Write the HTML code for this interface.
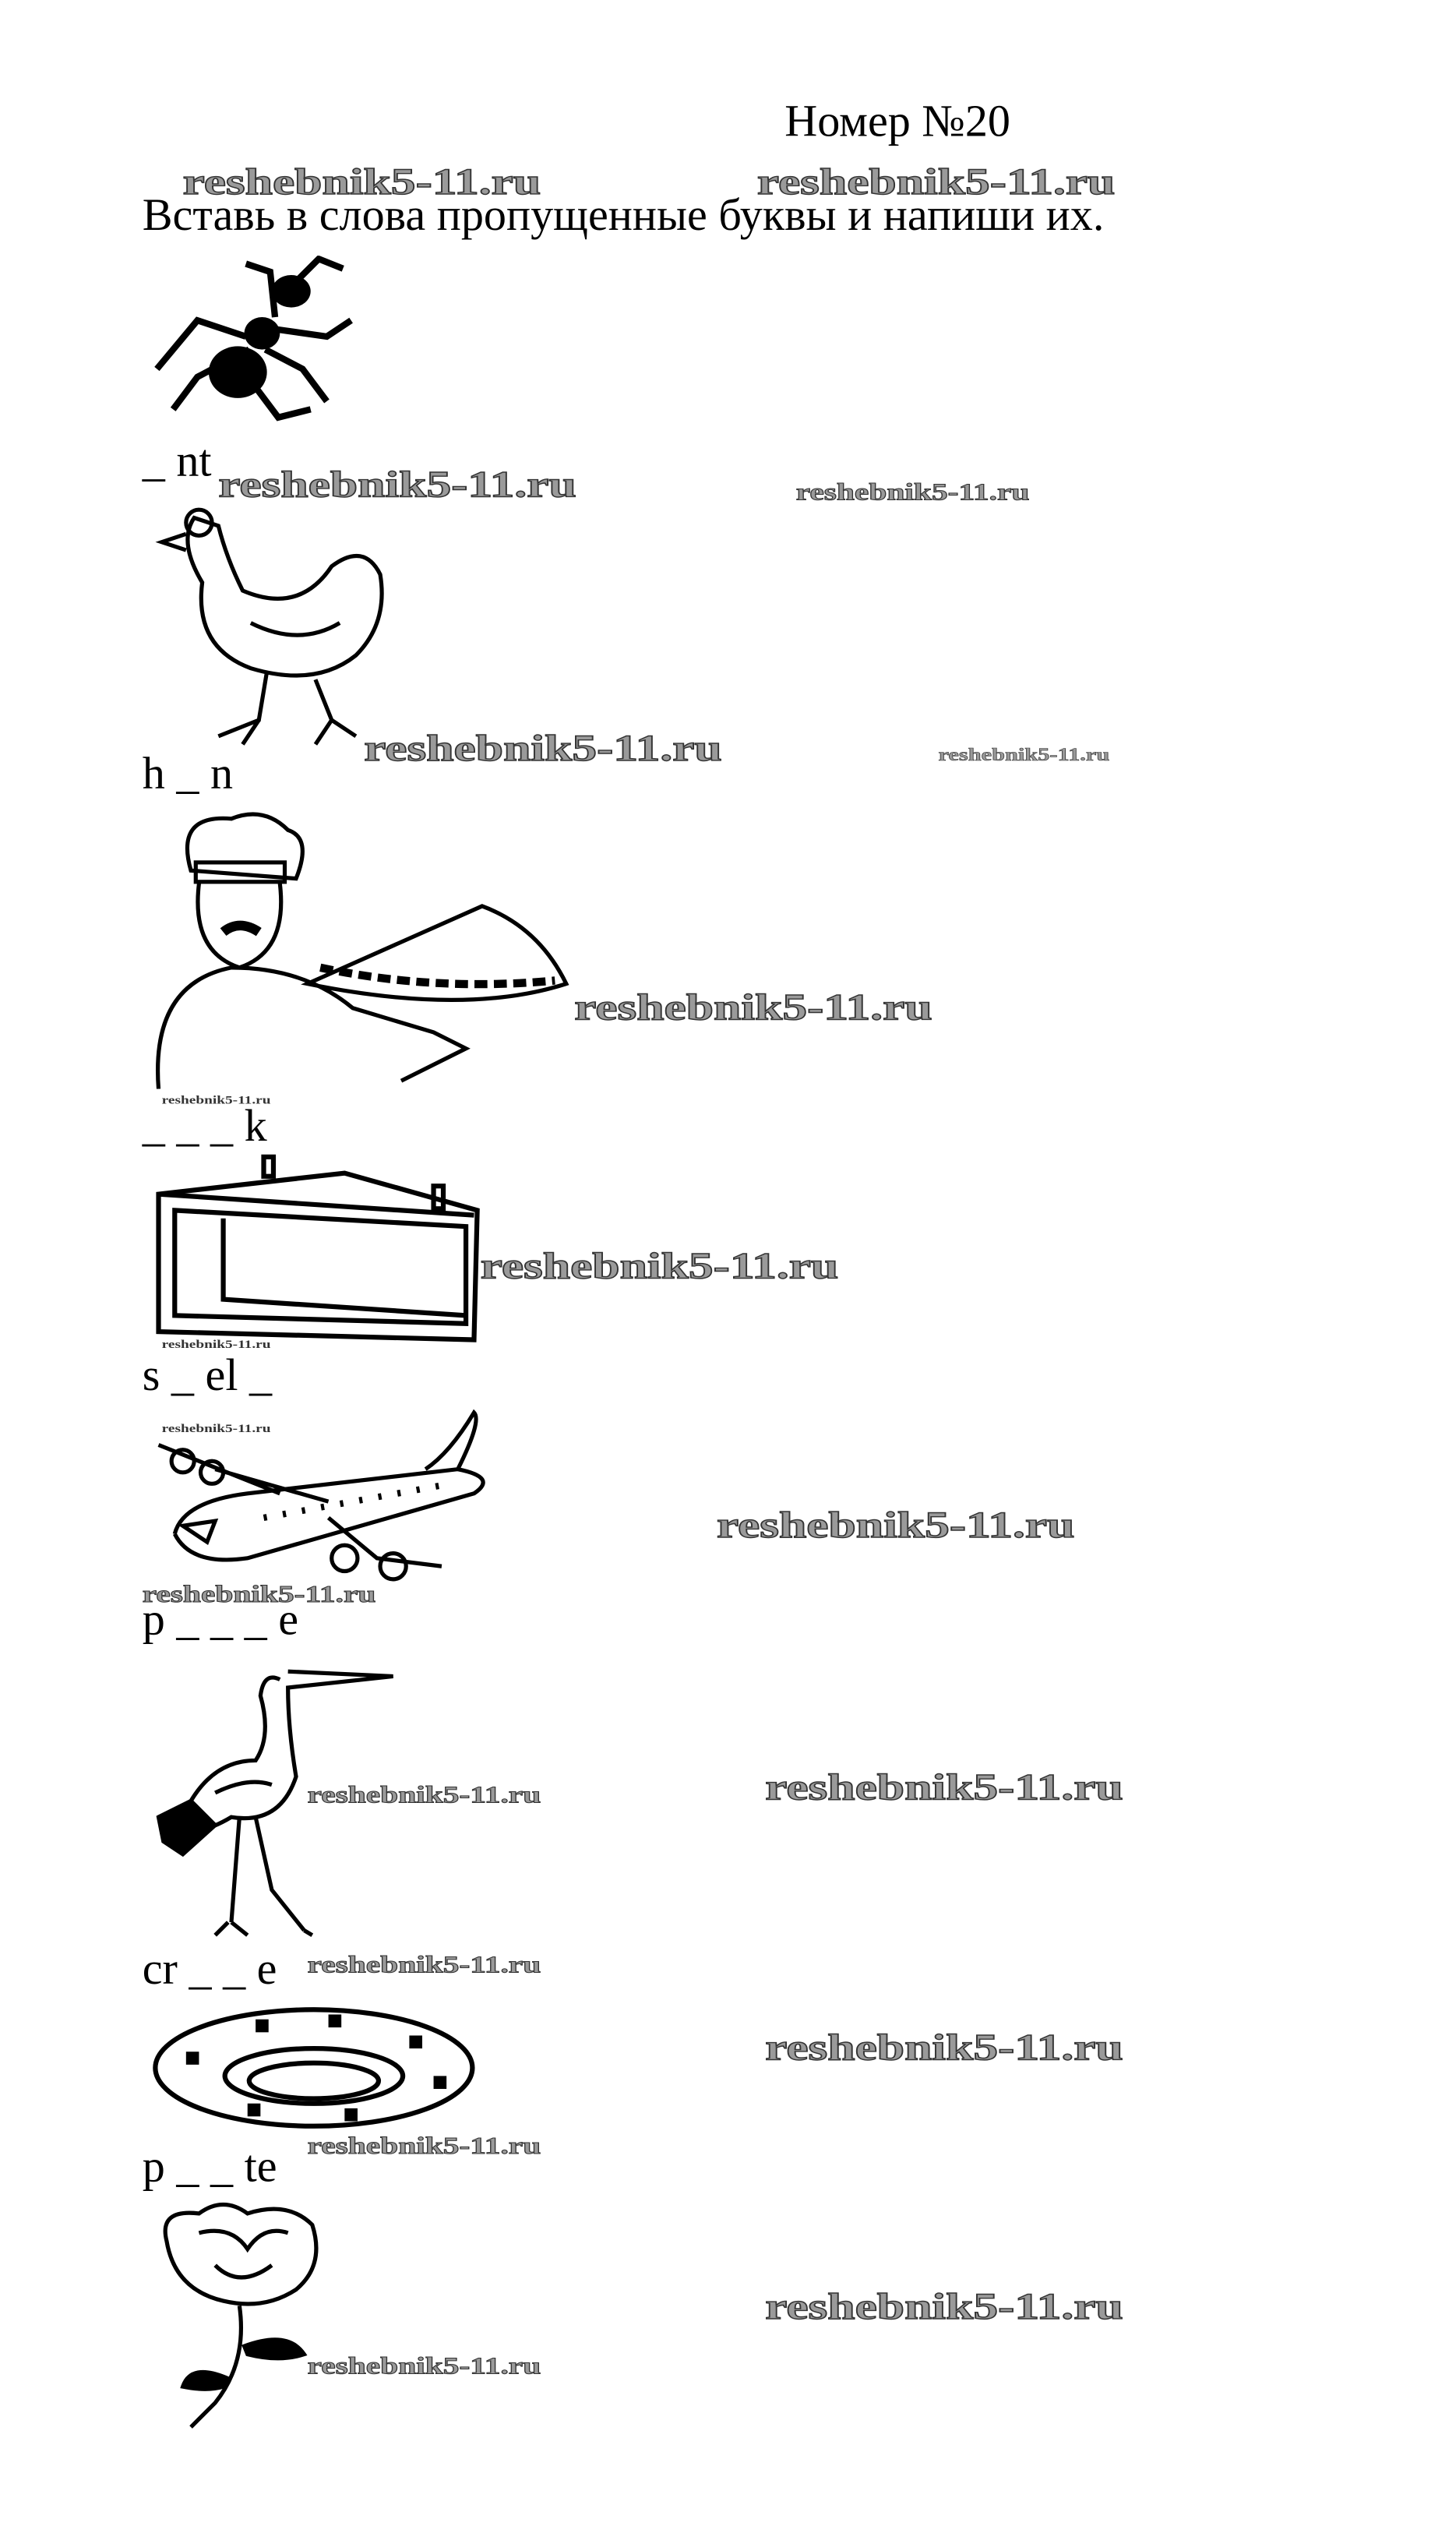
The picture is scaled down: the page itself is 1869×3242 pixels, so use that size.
<!DOCTYPE html>
<html><head><meta charset="utf-8">
<style>
html,body{margin:0;padding:0;background:#fff;}
body{width:1869px;height:3241px;overflow:hidden;position:relative;}
#w{position:absolute;left:0;top:0;width:900px;height:1561px;transform:scale(2.0767);transform-origin:0 0;}
.t{position:absolute;font-family:"Liberation Serif","Noto Serif CJK SC",serif;font-size:28px;color:#000;white-space:nowrap;line-height:1;}
.wm{position:absolute;font-family:"Liberation Serif",serif;font-weight:bold;color:#9a9a9a;-webkit-text-stroke:0.7px #333;white-space:nowrap;line-height:1;transform:scaleX(1.33);transform-origin:0 0;}
.L{font-size:23px;}.M{font-size:15px;-webkit-text-stroke:0.5px #333;}.S{font-size:11px;-webkit-text-stroke:0.3px #333;}.X{font-size:7px;-webkit-text-stroke:0;color:#333;}
svg{position:absolute;}
</style></head><body><div id="w">
<div class="t" style="left:485px;top:62px">Номер №20</div>
<div class="wm L" style="left:113px;top:101px">reshebnik5-11.ru</div>
<div class="wm L" style="left:468px;top:101px">reshebnik5-11.ru</div>
<div class="t" style="left:88px;top:120px">Вставь в слова пропущенные буквы и напиши их.</div>

<svg style="left:92px;top:158px" width="135" height="110" viewBox="0 0 135 110">
<ellipse cx="55" cy="72" rx="18" ry="16" fill="#000"/><ellipse cx="70" cy="48" rx="11" ry="10" fill="#000"/><ellipse cx="88" cy="22" rx="12" ry="10" fill="#000"/>
<g stroke="#000" stroke-width="4" fill="none"><path d="M60 50 L30 40 L5 70"/><path d="M62 58 L30 75 L15 95"/><path d="M72 58 L95 70 L110 90"/><path d="M75 45 L110 50 L125 40"/><path d="M78 38 L75 10 L60 5"/><path d="M92 15 L105 2 L120 8"/><path d="M65 80 L80 100 L100 95"/></g></svg>

<div class="t" style="left:88px;top:272px">_ nt</div>
<div class="wm L" style="left:135px;top:288px">reshebnik5-11.ru</div>
<div class="wm M" style="left:492px;top:298px">reshebnik5-11.ru</div>

<svg style="left:95px;top:305px" width="150" height="158" viewBox="0 0 150 158" fill="none" stroke="#000" stroke-width="2.5">
<path d="M25 15 Q15 30 30 55 Q25 95 60 108 Q100 120 125 100 Q145 80 140 50 Q130 30 110 45 Q90 75 55 60 Q45 40 40 20 Z"/><circle cx="28" cy="18" r="8"/><path d="M20 25 L5 30 L20 35"/><path d="M70 110 L65 140 L40 150 M65 140 L55 155"/><path d="M100 115 L110 140 L125 150 M110 140 L100 155"/><path d="M60 80 Q90 95 115 80"/></svg>

<div class="wm L" style="left:225px;top:451px">reshebnik5-11.ru</div>
<div class="wm S" style="left:580px;top:462px">reshebnik5-11.ru</div>
<div class="t" style="left:88px;top:465px">h _ n</div>

<svg style="left:88px;top:498px" width="270" height="175" viewBox="0 0 270 175" fill="none" stroke="#000" stroke-width="2.5">
<path d="M30 40 Q20 5 55 8 Q75 0 90 15 Q105 20 95 45 Z"/><rect x="33" y="35" width="55" height="12"/><path d="M35 48 Q30 90 60 100 Q90 90 85 48"/><path d="M50 78 Q60 70 72 78" stroke-width="6"/><path d="M10 175 Q5 110 55 100 Q100 100 130 125 L180 140 L200 150 L160 170"/><path d="M102 110 Q170 80 210 62 Q245 75 262 110 Q200 130 102 110 Z"/><path d="M110 100 Q180 115 255 108" stroke-width="5" stroke-dasharray="8 4"/></svg>

<div class="wm L" style="left:355px;top:611px">reshebnik5-11.ru</div>
<div class="wm X" style="left:100px;top:677px">reshebnik5-11.ru</div>
<div class="t" style="left:88px;top:683px">_ _ _ k</div>

<svg style="left:93px;top:713px" width="208" height="118" viewBox="0 0 208 118" fill="none" stroke="#000" stroke-width="3">
<path d="M5 25 L5 110 L200 115 L202 35 L120 12 L5 25 Z"/><path d="M5 25 L200 38"/><path d="M15 35 L195 45 L195 105 L15 100 Z"/><path d="M45 40 L45 90 L195 100"/><rect x="70" y="2" width="6" height="12"/><rect x="175" y="20" width="6" height="14"/></svg>

<div class="wm L" style="left:297px;top:771px">reshebnik5-11.ru</div>
<div class="wm X" style="left:100px;top:828px">reshebnik5-11.ru</div>
<div class="t" style="left:88px;top:837px">s _ el _</div>
<div class="wm X" style="left:100px;top:880px">reshebnik5-11.ru</div>

<svg style="left:93px;top:868px" width="220" height="110" viewBox="0 0 220 110" fill="none" stroke="#000" stroke-width="2.5">
<path d="M15 80 Q20 60 60 55 L190 40 Q205 10 200 5 Q185 30 170 40"/><path d="M15 80 Q25 100 60 95 L200 55 Q215 45 190 40"/><path d="M40 40 L110 60 M5 25 L80 55"/><circle cx="20" cy="35" r="7"/><circle cx="38" cy="42" r="7"/><circle cx="120" cy="95" r="8"/><circle cx="150" cy="100" r="8"/><path d="M110 70 L140 95 L180 100"/><path d="M20 75 L40 72 L35 85 Z"/><g stroke-width="4" stroke-dasharray="2 10"><path d="M70 70 L180 50"/></g></svg>

<div class="wm L" style="left:443px;top:931px">reshebnik5-11.ru</div>
<div class="wm M" style="left:88px;top:979px">reshebnik5-11.ru</div>
<div class="t" style="left:88px;top:988px">p _ _ _ e</div>

<svg style="left:93px;top:1028px" width="155" height="170" viewBox="0 0 155 170" fill="none" stroke="#000" stroke-width="2.5">
<path d="M80 10 Q70 5 68 20 Q75 45 65 60 Q40 60 25 85 L10 100 Q25 110 50 95 Q80 100 90 70 Q85 40 85 15 L150 8 L85 5"/><path d="M5 95 L25 85 L40 100 L20 118 L8 110 Z" fill="#000"/><path d="M55 95 L50 160 M48 160 L40 168 M50 160 L60 168"/><path d="M65 95 L75 140 L95 165 M95 165 L100 168"/><path d="M40 80 Q60 70 75 75"/></svg>

<div class="wm M" style="left:190px;top:1103px">reshebnik5-11.ru</div>
<div class="wm L" style="left:473px;top:1093px">reshebnik5-11.ru</div>
<div class="t" style="left:88px;top:1204px">cr _ _ e</div>
<div class="wm M" style="left:190px;top:1208px">reshebnik5-11.ru</div>

<svg style="left:93px;top:1238px" width="203" height="82" viewBox="0 0 203 82" fill="none" stroke="#000" stroke-width="3">
<ellipse cx="101" cy="40" rx="98" ry="36"/><ellipse cx="101" cy="45" rx="55" ry="17"/><ellipse cx="101" cy="48" rx="40" ry="11"/>
<g fill="#000" stroke="none"><rect x="22" y="30" width="8" height="8"/><rect x="65" y="10" width="8" height="8"/><rect x="110" y="7" width="8" height="8"/><rect x="160" y="20" width="8" height="8"/><rect x="175" y="45" width="8" height="8"/><rect x="120" y="65" width="8" height="8"/><rect x="60" y="62" width="8" height="8"/></g></svg>

<div class="wm L" style="left:473px;top:1254px">reshebnik5-11.ru</div>
<div class="wm M" style="left:190px;top:1320px">reshebnik5-11.ru</div>
<div class="t" style="left:88px;top:1326px">p _ _ te</div>

<svg style="left:93px;top:1360px" width="118" height="145" viewBox="0 0 118 145" fill="none" stroke="#000" stroke-width="2.5">
<path d="M10 25 Q5 5 30 8 Q45 -3 60 8 Q85 0 100 15 Q108 40 90 55 Q70 68 45 62 Q15 55 10 25 Z"/><path d="M30 20 Q50 15 60 30 Q70 15 85 20 M40 40 Q55 55 75 40"/><path d="M55 65 Q60 100 40 125 L25 140"/><path d="M58 90 Q85 80 95 95 Q80 100 60 95 Z" fill="#000"/><path d="M48 110 Q25 100 20 115 Q35 118 45 115 Z" fill="#000"/></svg>

<div class="wm L" style="left:473px;top:1414px">reshebnik5-11.ru</div>
<div class="wm M" style="left:190px;top:1456px">reshebnik5-11.ru</div>
</div></body></html>
